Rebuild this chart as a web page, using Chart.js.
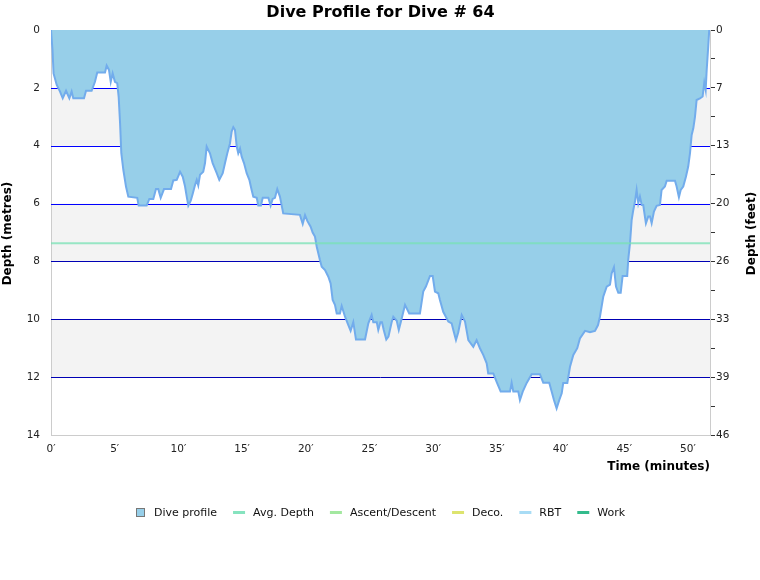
<!DOCTYPE html>
<html><head><meta charset="utf-8">
<script src="https://cdn.jsdelivr.net/npm/chart.js@4.4.0/dist/chart.umd.min.js"></script>
<style>html,body{margin:0;padding:0;background:#fff}#wrap{width:760px;height:580px;position:relative}</style>
</head><body><div id="wrap"><canvas id="c" width="760" height="580"></canvas></div>
<script>
// ---- data (time in minutes, depth in metres) ----
const times = [0,0.12,0.20,0.45,0.71,0.92,1.18,1.44,1.62,1.75,
2.59,2.75,3.19,3.45,3.63,4.24,4.37,4.55,4.69,4.84,
5.02,5.20,5.31,5.42,5.52,5.68,5.89,6.07,6.77,6.88,
7.51,7.72,8.03,8.24,8.42,8.61,8.87,9.42,9.60,9.87,
10.13,10.34,10.52,10.65,10.78,10.97,11.12,11.30,11.44,11.56,
11.70,11.95,12.09,12.22,12.48,12.69,13.01,13.21,13.48,13.66,
13.84,14.05,14.18,14.31,14.44,14.58,14.70,14.84,14.97,15.15,
15.36,15.57,15.75,15.88,16.15,16.27,16.48,16.62,17.06,17.24,
17.40,17.58,17.76,17.97,18.23,19.54,19.76,19.94,20.12,20.38,
20.54,20.72,20.86,21.11,21.25,21.51,21.77,21.95,22.11,22.29,
22.43,22.68,22.82,23.08,23.34,23.52,23.73,23.94,24.65,24.91,
25.17,25.30,25.57,25.69,25.86,25.98,26.12,26.32,26.49,26.74,
26.87,27.14,27.30,27.53,27.79,28.12,28.96,29.22,29.43,29.75,
29.96,30.14,30.40,30.53,30.79,31.19,31.45,31.58,31.79,31.97,
32.24,32.50,32.76,33.15,33.41,33.67,33.93,34.20,34.32,34.72,
34.98,35.30,36.03,36.16,36.29,36.68,36.81,37.03,37.34,37.73,
38.38,38.64,39.11,39.30,39.48,39.69,39.90,40.09,40.21,40.53,
40.74,41.00,41.31,41.52,41.92,42.31,42.70,42.94,43.09,43.35,
43.62,43.88,44.01,44.19,44.35,44.53,44.72,44.87,45.23,45.31,
45.45,45.58,45.71,45.84,45.97,46.10,46.23,46.37,46.49,46.62,
46.70,46.88,47.02,47.15,47.33,47.54,47.80,47.93,48.19,48.33,
48.98,49.11,49.29,49.43,49.63,49.84,50.02,50.16,50.29,50.42,
50.55,50.68,50.94,51.15,51.28,51.39,51.47,51.59,51.67];
const depths = [0,0.7,1.5,1.9,2.13,2.36,2.1,2.36,2.13,2.36,
2.36,2.1,2.1,1.79,1.47,1.47,1.23,1.38,1.79,1.5,
1.79,1.84,2.3,3.2,4.26,4.84,5.42,5.76,5.8,6.07,
6.07,5.84,5.84,5.5,5.5,5.8,5.5,5.5,5.2,5.18,
4.9,5.07,5.4,5.75,6.07,5.9,5.67,5.37,5.18,5.37,
5.0,4.9,4.6,4.03,4.26,4.6,4.95,5.18,4.95,4.6,
4.26,3.92,3.51,3.36,3.45,4.03,4.26,4.1,4.38,4.6,
4.95,5.18,5.53,5.76,5.8,6.07,6.07,5.8,5.8,6.07,
5.84,5.8,5.5,5.76,6.34,6.39,6.7,6.4,6.6,6.8,
7.0,7.14,7.49,7.95,8.18,8.3,8.53,8.76,9.33,9.5,
9.8,9.8,9.54,9.91,10.2,10.4,10.1,10.7,10.7,10.14,
9.85,10.1,10.1,10.37,10.1,10.1,10.37,10.7,10.6,10.1,
9.91,10.05,10.37,9.97,9.5,9.8,9.8,9.04,8.87,8.5,
8.5,9.04,9.1,9.33,9.74,10.08,10.14,10.37,10.72,10.45,
9.85,10.08,10.72,10.95,10.72,11.0,11.23,11.52,11.87,11.87,
12.16,12.5,12.5,12.2,12.5,12.5,12.79,12.5,12.2,11.9,
11.9,12.19,12.19,12.5,12.79,13.08,12.79,12.56,12.2,12.2,
11.64,11.23,11.0,10.66,10.4,10.45,10.4,10.2,9.91,9.22,
8.87,8.8,8.41,8.2,8.87,9.08,9.08,8.5,8.5,7.95,
7.37,6.57,6.22,5.93,5.53,5.99,5.76,6.05,6.05,6.45,
6.68,6.45,6.45,6.68,6.28,6.08,6.05,5.53,5.41,5.21,
5.21,5.41,5.78,5.53,5.41,5.07,4.72,4.26,3.63,3.4,
3.0,2.42,2.36,2.3,1.82,2.07,1.38,0.58,0];
const avgDepth = 7.37;
const diveDuration = 51.73;
const xTickValues = [0,5,10,15,20,25,30,35,40,45,50];
const metreTicks = [0,2,4,6,8,10,12,14];
const feetTickPositions = [0,1,2,3,4,5,6,7,8,9,10,11,12,13,14];
const feetLabels = ['0','7','13','20','26','33','39','46'];
const legendLabels = ['Dive profile','Avg. Depth','Ascent/Descent','Deco.','RBT','Work'];
const legendColors = ['#97cfe9','#86e3bf','#a3e8a0','#dde46e','#a8dcf5','#33bb8c'];
const titleText = 'Dive Profile for Dive # 64';

// ---- styles ----
const FONT = '"DejaVu Sans", Verdana, sans-serif';
const profileFill = '#97cfe9';
const profileLine = '#72acec';
const gridColorShallow = '#0000ff';
const gridColorDeep = '#0000b4';

const decoPlugin = {
  id: 'deco',
  beforeDraw(chart) {
    const {ctx, chartArea: a} = chart;
    const y = chart.scales.y;
    ctx.save();
    ctx.fillStyle = '#fff';
    ctx.fillRect(0, 0, chart.width, chart.height);
    ctx.fillStyle = '#f3f3f3';
    for (let i = 0; i < metreTicks.length - 1; i++) {
      if (i % 2 === 1) {
        const y0 = y.getPixelForValue(metreTicks[i]);
        const y1 = y.getPixelForValue(metreTicks[i + 1]);
        ctx.fillRect(a.left, y0, a.right - a.left, y1 - y0);
      }
    }
    ctx.restore();
  },
  beforeDatasetsDraw(chart) {
    const {ctx, chartArea: a} = chart;
    const y = chart.scales.y;
    ctx.save();
    ctx.lineWidth = 1;
    metreTicks.forEach(v => {
      const py = Math.round(y.getPixelForValue(v)) + 0.5;
      if (v === metreTicks[metreTicks.length - 1]) return;
      ctx.strokeStyle = v === 0 ? '#cccccc' : (v <= 6 ? gridColorShallow : gridColorDeep);
      ctx.beginPath();
      ctx.moveTo(a.left, py);
      ctx.lineTo(a.right, py);
      ctx.stroke();
    });
    ctx.restore();
  },
  afterDraw(chart) {
    const {ctx, chartArea: a} = chart;
    ctx.save();
    ctx.fillStyle = '#000';
    // title
    ctx.font = 'bold 16px ' + FONT;
    ctx.textAlign = 'center';
    ctx.textBaseline = 'middle';
    ctx.fillText(titleText, (a.left + a.right) / 2, 13);
    // axis titles
    ctx.font = 'bold 12px ' + FONT;
    ctx.textAlign = 'right';
    ctx.fillText('Time (minutes)', a.right, 467);
    const midY = (a.top + a.bottom) / 2 + 1;
    ctx.textAlign = 'center';
    ctx.save();
    ctx.translate(8, midY); ctx.rotate(-Math.PI / 2);
    ctx.fillText('Depth (metres)', 0, 0);
    ctx.restore();
    ctx.save();
    ctx.translate(752, midY); ctx.rotate(-Math.PI / 2);
    ctx.fillText('Depth (feet)', 0, 0);
    ctx.restore();
    // legend
    ctx.font = '11px ' + FONT;
    ctx.textAlign = 'left';
    const gap = 16;
    const widths = legendLabels.map(t => ctx.measureText(t).width);
    const offs = legendLabels.map((t, i) => i === 0 ? 18 : 20);
    let total = 0;
    widths.forEach((w, i) => { total += offs[i] + w; });
    total += gap * (legendLabels.length - 1);
    let x = Math.round(381 - total / 2);
    const ly = 512;
    legendLabels.forEach((t, i) => {
      if (i === 0) {
        ctx.fillStyle = legendColors[i];
        ctx.fillRect(x + 0.5, ly - 3.5, 8, 8);
        ctx.strokeStyle = '#777';
        ctx.lineWidth = 1;
        ctx.strokeRect(x + 0.5, ly - 3.5, 8, 8);
      } else {
        ctx.fillStyle = legendColors[i];
        ctx.fillRect(x, ly - 1, 12, 3);
      }
      ctx.fillStyle = '#111';
      ctx.fillText(t, x + offs[i], ly + 1);
      x += offs[i] + widths[i] + gap;
    });
    ctx.restore();
  }
};

const tickFont = {family: FONT, size: 10.5};

new Chart(document.getElementById('c'), {
  type: 'line',
  data: {
    datasets: [
      {
        label: 'Avg. Depth',
        data: [{x: 0, y: avgDepth}, {x: diveDuration, y: avgDepth}],
        borderColor: 'rgba(120,226,180,0.75)',
        borderWidth: 2,
        pointRadius: 0,
        fill: false,
        order: 0
      },
      {
        label: 'Dive profile',
        data: times.map((t, i) => ({x: t, y: depths[i]})),
        borderColor: profileLine,
        backgroundColor: profileFill,
        borderWidth: 2,
        pointRadius: 0,
        tension: 0,
        fill: 'origin',
        order: 1
      }
    ]
  },
  options: {
    responsive: false,
    animation: false,
    events: [],
    layout: {padding: {top: 30, left: 0, right: 0, bottom: 0}},
    plugins: {legend: {display: false}, title: {display: false}, tooltip: {enabled: false}},
    scales: {
      x: {
        type: 'linear', position: 'bottom', min: 0, max: diveDuration,
        afterBuildTicks: s => { s.ticks = xTickValues.map(v => ({value: v})); },
        afterFit: s => { s.height = 145; },
        grid: {display: false, drawTicks: false},
        border: {display: true, color: '#cccccc', width: 1},
        ticks: {padding: 8, color: '#222', font: tickFont, maxRotation: 0, autoSkip: false,
                callback: v => v + '\u2032'}
      },
      y: {
        type: 'linear', position: 'left', reverse: true, min: 0, max: 14,
        afterBuildTicks: s => { s.ticks = metreTicks.map(v => ({value: v})); },
        afterFit: s => { s.width = 51; },
        grid: {display: false, drawTicks: false},
        border: {display: true, color: '#cccccc', width: 1},
        ticks: {padding: 11, color: '#222', font: tickFont, autoSkip: false}
      },
      y2: {
        type: 'linear', position: 'right', reverse: true, min: 0, max: 14,
        afterBuildTicks: s => { s.ticks = feetTickPositions.map(v => ({value: v})); },
        afterFit: s => { s.width = 50; },
        grid: {drawOnChartArea: false, drawTicks: true, tickLength: 5, color: '#333', tickColor: '#333'},
        border: {color: '#cccccc', width: 1},
        ticks: {padding: 1, color: '#222', font: tickFont, autoSkip: false,
                callback: v => (v % 2 === 0 ? feetLabels[v / 2] : '')}
      }
    }
  },
  plugins: [decoPlugin]
});
</script>
</body></html>
